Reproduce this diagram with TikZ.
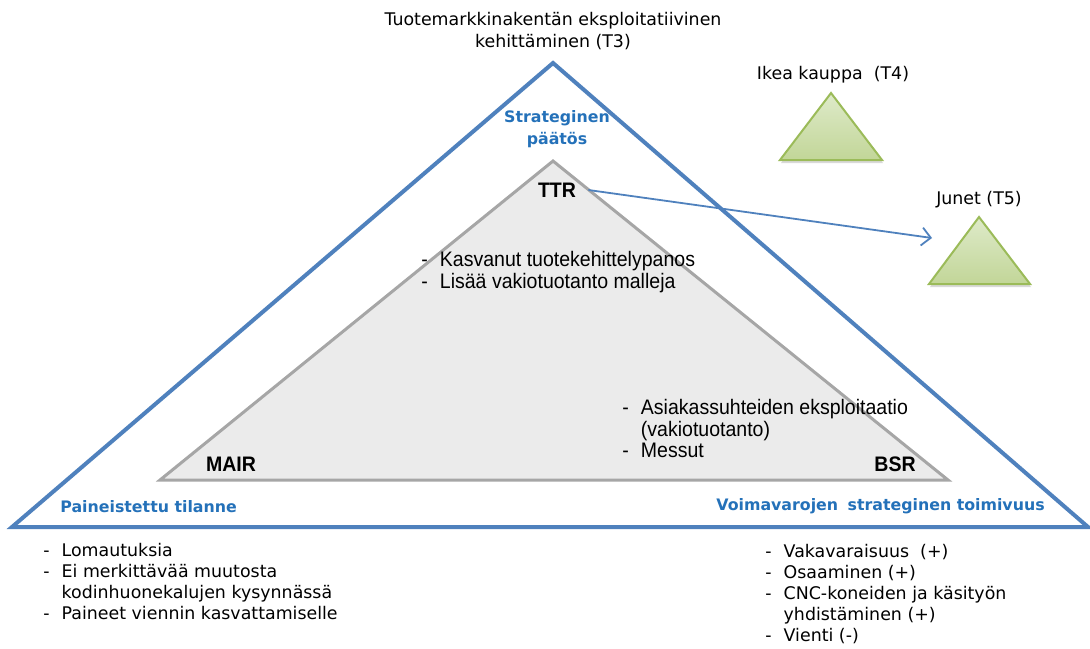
\documentclass[tikz,border=0pt]{standalone}
\usepackage{fontspec}
\setmainfont{DejaVu Sans}
\newfontfamily\narrowfont[FakeStretch=0.93]{Liberation Sans}
\usepackage{tikz}
\usetikzlibrary{arrows.meta,positioning,shadows}

\definecolor{frameblue}{RGB}{79,129,189}
\definecolor{titleblue}{RGB}{36,113,185}
\definecolor{innergray}{RGB}{235,235,235}
\definecolor{innerline}{RGB}{166,166,166}
\definecolor{leafgreen}{RGB}{155,187,89}
\definecolor{leaftop}{RGB}{222,234,201}
\definecolor{leafbottom}{RGB}{194,214,152}

\begin{document}
\begin{tikzpicture}[
  x=0.5pt, y=-0.5pt,
  every node/.style={font=\fontsize{8.7}{11}\selectfont, inner sep=0pt},
  headline/.style={font=\fontsize{7.9}{11}\selectfont\bfseries, text=titleblue, align=center},
  corner/.style={font=\narrowfont\fontsize{10.5}{12}\selectfont\bfseries},
  inlist/.style={font=\narrowfont\fontsize{10.5}{10.5}\selectfont, align=left},
  outlist/.style={font=\fontsize{8.7}{10.5}\selectfont, align=left},
  frame/.style={draw=frameblue, line width=2pt, line join=miter},
  core/.style={draw=innerline, fill=innergray, line width=1.5pt},
  leaf/.style={draw=leafgreen, line width=1pt, top color=leaftop, bottom color=leafbottom,
               drop shadow={shadow xshift=0.5pt, shadow yshift=-1.5pt, opacity=0.3}},
  arrow/.style={draw=frameblue, line width=0.9pt, -{Straight Barb[length=4.5pt,width=9pt]}}
]
  \useasboundingbox (0,0) rectangle (1090,648);

  % corner points of the triangles
  \coordinate (top)   at (553,63);
  \coordinate (left)  at (12,527);
  \coordinate (right) at (1088,527);
  \coordinate (ctop)   at (553,161);
  \coordinate (cleft)  at (160,480);
  \coordinate (cright) at (948,480);

  \draw[frame] (left) -- (top) -- (right) -- cycle;
  \draw[core] (cleft) -- (ctop) -- (cright) -- cycle;

  % small side triangles
  \path[leaf] (780,160) -- (831,93) -- (882,160) -- cycle;
  \path[leaf] (929,284) -- (979,217) -- (1030,284) -- cycle;

  \node[align=center] (t3) at (553,31) {Tuotemarkkinakentän eksploitatiivinen\\kehittäminen (T3)};
  \node (t4) at (833,75) {Ikea kauppa\ \ (T4)};
  \node (t5) at (979,200) {Junet (T5)};

  \node[headline] (decision) at (557,129) {Strateginen\\päätös};
  \node[headline, anchor=west] (pressure) at (60,507) {Paineistettu tilanne};
  \node[headline, anchor=west] (resources) at (716,506) {Voimavarojen\hspace{2pt} strateginen toimivuus};

  \node[corner, inner xsep=6pt] (ttr) at (557,190) {TTR};
  \node[corner] (mair) at (231,464) {MAIR};
  \node[corner] (bsr) at (895,464) {BSR};

  \node[inlist, anchor=north west] (develop) at (421,251) {%
    \begin{tabular}{@{}l@{\hspace{6pt}}l@{}}
      - & Kasvanut tuotekehittelypanos\\
      - & Lisää vakiotuotanto malleja
    \end{tabular}};
  \node[inlist, anchor=north west] (customers) at (622,399) {%
    \begin{tabular}{@{}l@{\hspace{6pt}}l@{}}
      - & Asiakassuhteiden eksploitaatio\\
        & (vakiotuotanto)\\
      - & Messut
    \end{tabular}};

  \node[outlist, anchor=north west] (pressurelist) at (43,541) {%
    \begin{tabular}{@{}l@{\hspace{6pt}}l@{}}
      - & Lomautuksia\\
      - & Ei merkittävää muutosta\\
        & kodinhuonekalujen kysynnässä\\
      - & Paineet viennin kasvattamiselle
    \end{tabular}};
  \node[outlist, anchor=north west] (resourcelist) at (765,542) {%
    \begin{tabular}{@{}l@{\hspace{6pt}}l@{}}
      - & Vakavaraisuus\ \ (+)\\
      - & Osaaminen (+)\\
      - & CNC-koneiden ja käsityön\\
        & yhdistäminen (+)\\
      - & Vienti (-)
    \end{tabular}};

  \coordinate (junetend) at (932,238);
  \draw[arrow] (ttr.east) -- (junetend);
\end{tikzpicture}
\end{document}
